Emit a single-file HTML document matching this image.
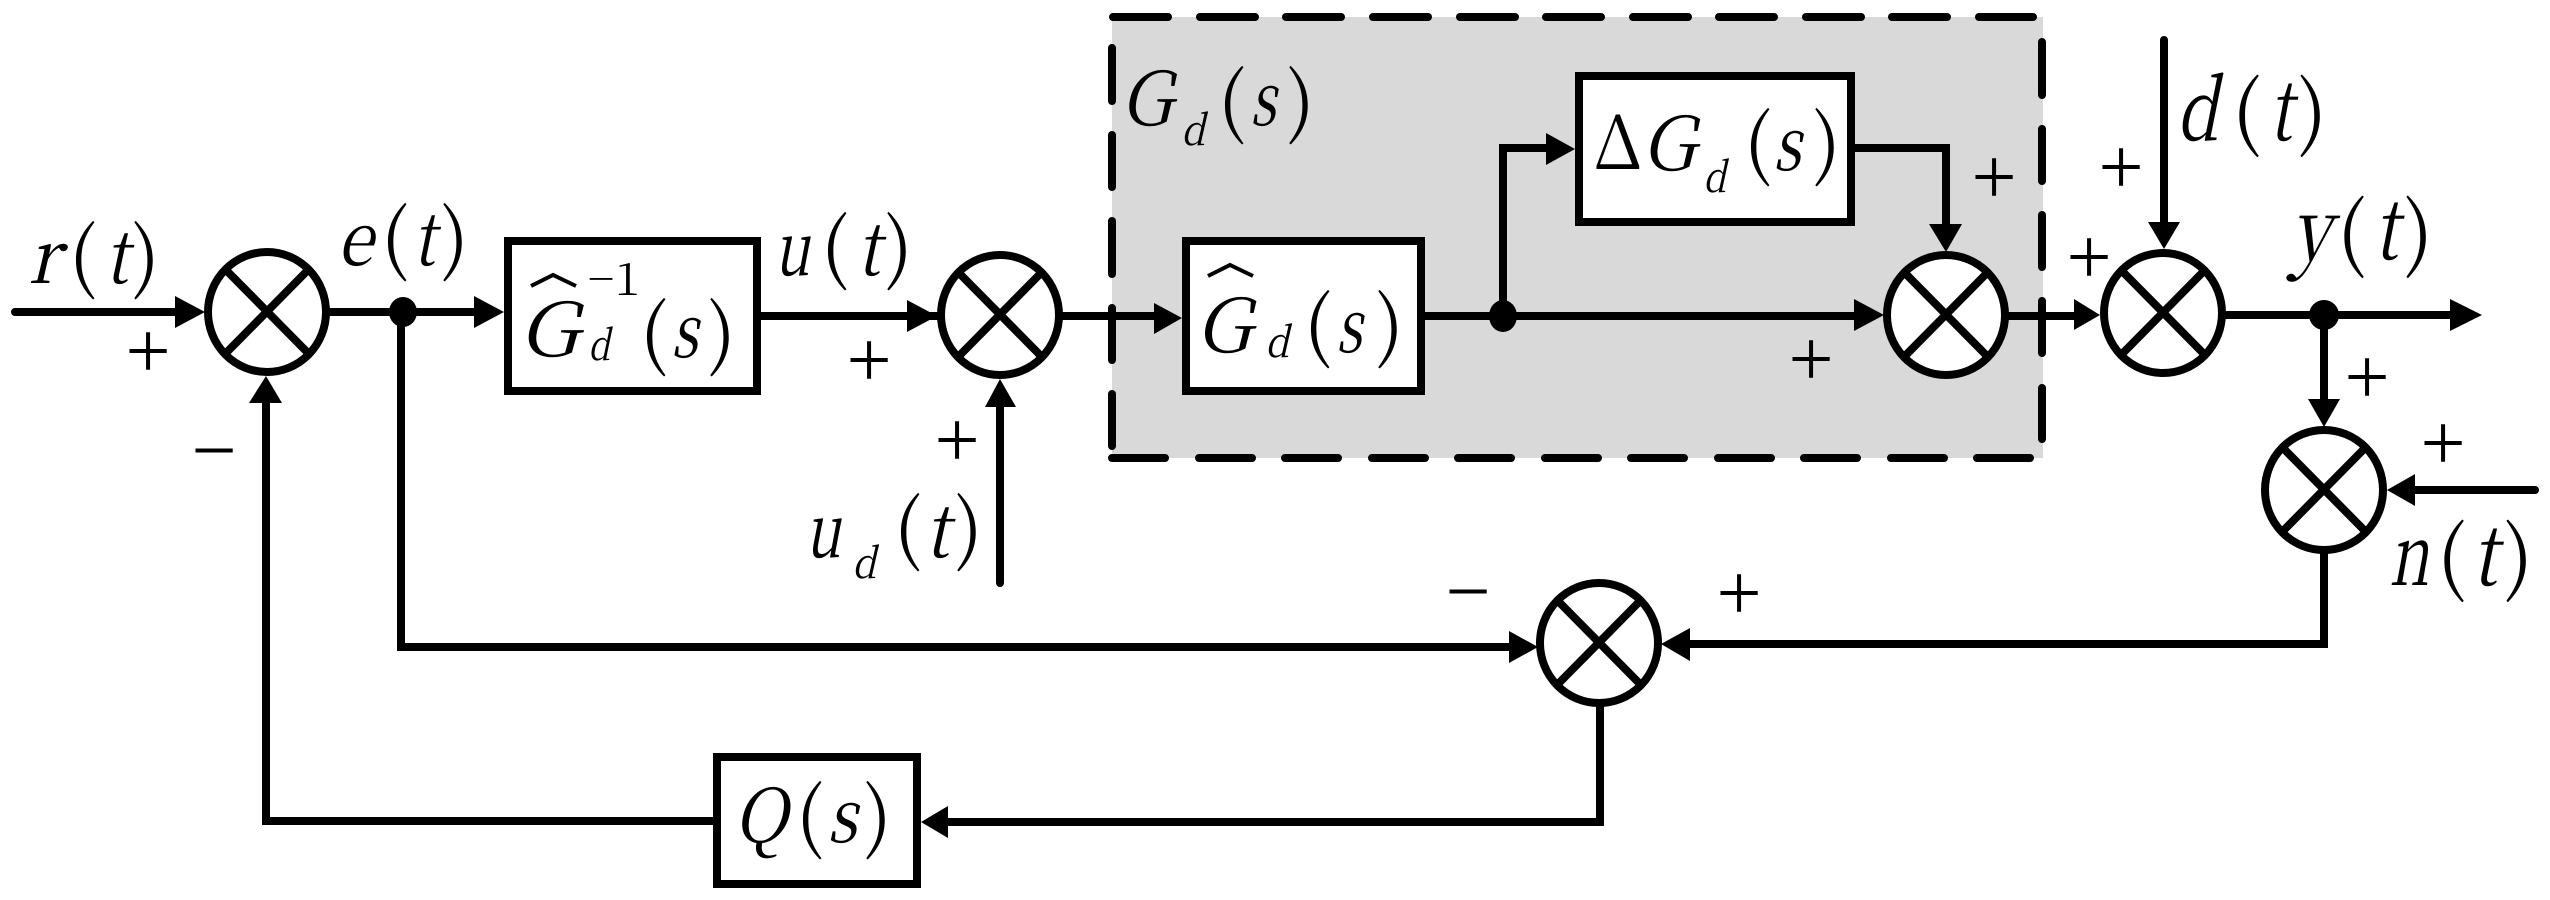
<!DOCTYPE html>
<html><head><meta charset="utf-8">
<style>
html,body{margin:0;padding:0;background:#fff;width:2550px;height:900px;overflow:hidden}
svg{display:block;font-family:"Liberation Serif",serif}
text{font-family:"Noto Serif CJK SC","Liberation Serif",serif;fill:#000}
.i{font-style:italic;font-size:74px}
.v{font-style:italic;font-size:84px}
.s{font-style:italic;font-size:42px}
.p{font-size:76px}
.P{font-size:80px}
.o{font-family:"Liberation Serif",serif;font-size:80px;text-anchor:middle}
.e{font-size:45px}
.l{stroke:#000;stroke-width:8;fill:none;stroke-linecap:round;stroke-linejoin:miter}
.b{stroke:#000;stroke-width:8;fill:#fff}
.c{stroke:#000;stroke-width:8;fill:#fff}
.x{stroke:#000;stroke-width:8;fill:none}
.d{stroke:#000;stroke-width:8;fill:none;stroke-linecap:round}
.h{stroke:#000;stroke-width:4;fill:none}
</style></head><body>
<svg width="2550" height="900" viewBox="0 0 2550 900" xmlns="http://www.w3.org/2000/svg">
<rect x="1112" y="17" width="931" height="441" fill="#d9d9d9"/>
<!-- dashed border -->
<path class="d" d="M1113 17H1168M1200 17H1255M1286 17H1341M1373 17H1428M1460 17H1515M1546 17H1601M1633 17H1688M1719 17H1774M1806 17H1861M1892 17H1947M1979 17H2033"/>
<path class="d" d="M1112 458H1165M1199 458H1252M1285 458H1338M1372 458H1425M1458 458H1511M1545 458H1598M1631 458H1684M1718 458H1771M1804 458H1857M1891 458H1944M1977 458H2030"/>
<path class="d" d="M1112 48V101M1112 135V187M1112 221V274M1112 308V360M1112 394V446"/>
<path class="d" d="M2042 42V95M2042 129V181M2042 215V267M2042 301V353M2042 388V439"/>
<!-- wires -->
<path class="l" d="M15 312H180M330 312H480M761 316H960M1063 316H1160M1425 316H1860M2008 316H2080M2226 315H2455"/>
<path class="l" d="M1503 316V148H1552M1855 148H1946V228M2164 40V226M2324 315V402M2535 490H2410M1000 583V404"/>
<path class="l" d="M401 312V647H1513M2324 554V644H1686M1600 707V822H945M713 821H266V400"/>
<!-- arrowheads -->
<g fill="#000">
<polygon points="175,296 205,312 175,328"/>
<polygon points="474,296 504,312 474,328"/>
<polygon points="907,300 937,316 907,332"/>
<polygon points="1154,303 1182,318 1154,334"/>
<polygon points="1546,133 1575,149 1546,165"/>
<polygon points="1854,299 1884,315 1854,331"/>
<polygon points="1929,224 1962,224 1946,252"/>
<polygon points="2074,299 2100,315 2074,330"/>
<polygon points="2148,222 2180,222 2164,249"/>
<polygon points="2450,299 2482,315 2450,331"/>
<polygon points="2308,399 2340,399 2324,427"/>
<polygon points="2415,474 2387,490 2415,506"/>
<polygon points="985,407 1016,407 1000,379"/>
<polygon points="249,403 282,403 266,376"/>
<polygon points="1509,631 1538,647 1509,663"/>
<polygon points="1690,628 1661,644 1690,661"/>
<polygon points="948,806 921,822 948,838"/>
<ellipse cx="403" cy="312" rx="14" ry="15"/>
<ellipse cx="1503" cy="316" rx="14" ry="16"/>
<ellipse cx="2324" cy="315" rx="15" ry="15"/>
</g>
<!-- boxes -->
<rect class="b" x="508" y="241" width="249" height="150"/>
<rect class="b" x="1186" y="241" width="235" height="150"/>
<rect class="b" x="1579" y="76" width="272" height="146"/>
<rect class="b" x="717" y="757" width="200" height="127"/>
<!-- summing junctions -->
<g>
<ellipse class="c" cx="267" cy="312" rx="59" ry="60"/><path class="x" d="M226 270L308 353M308 270L226 353"/>
<ellipse class="c" cx="1000" cy="315" rx="59" ry="60"/><path class="x" d="M959 273L1041 356M1041 273L959 356"/>
<ellipse class="c" cx="1946" cy="315" rx="59" ry="60"/><path class="x" d="M1905 273L1987 356M1987 273L1905 356"/>
<ellipse class="c" cx="2163" cy="313" rx="59" ry="60"/><path class="x" d="M2122 271L2204 354M2204 271L2122 354"/>
<ellipse class="c" cx="2324" cy="490" rx="59" ry="60"/><path class="x" d="M2283 448L2365 531M2365 448L2283 531"/>
<ellipse class="c" cx="1599" cy="643" rx="59" ry="60"/><path class="x" d="M1558 601L1640 684M1640 601L1558 684"/>
</g>
<!-- signal labels -->
<text class="i" x="28" y="283" textLength="32" lengthAdjust="spacingAndGlyphs">r</text><text class="p" x="69" y="283">(</text><text class="i" x="105" y="283" textLength="23" lengthAdjust="spacingAndGlyphs">t</text><text class="p" x="132" y="283">)</text>
<text class="i" x="337" y="265" textLength="36" lengthAdjust="spacingAndGlyphs">e</text><text class="p" x="381" y="265">(</text><text class="i" x="413" y="265" textLength="22" lengthAdjust="spacingAndGlyphs">t</text><text class="p" x="441" y="265">)</text>
<text class="i" x="774" y="275" textLength="36" lengthAdjust="spacingAndGlyphs">u</text><text class="p" x="821" y="274">(</text><text class="i" x="857" y="275" textLength="23" lengthAdjust="spacingAndGlyphs">t</text><text class="p" x="885" y="274">)</text>
<text class="i" x="805" y="557" textLength="36" lengthAdjust="spacingAndGlyphs">u</text><text class="s" x="852" y="578" textLength="24" lengthAdjust="spacingAndGlyphs">d</text><text class="p" x="894" y="555">(</text><text class="i" x="925" y="557" textLength="24" lengthAdjust="spacingAndGlyphs">t</text><text class="p" x="955" y="555">)</text>
<text class="v" x="2176" y="140" textLength="42" lengthAdjust="spacingAndGlyphs">d</text><text class="P" x="2232" y="140">(</text><text class="v" x="2269" y="140" textLength="23" lengthAdjust="spacingAndGlyphs">t</text><text class="P" x="2298" y="140">)</text>
<text class="v" x="2291" y="259" textLength="40" lengthAdjust="spacingAndGlyphs">y</text><text class="P" x="2337" y="261">(</text><text class="v" x="2374" y="259" textLength="24" lengthAdjust="spacingAndGlyphs">t</text><text class="P" x="2404" y="261">)</text>
<text class="v" x="2389" y="585" textLength="40" lengthAdjust="spacingAndGlyphs">n</text><text class="P" x="2437" y="585">(</text><text class="v" x="2472" y="585" textLength="25" lengthAdjust="spacingAndGlyphs">t</text><text class="P" x="2504" y="585">)</text>
<!-- transfer functions -->
<text class="i" x="1120" y="125" textLength="52" lengthAdjust="spacingAndGlyphs">G</text><text class="s" x="1181" y="145" textLength="24" lengthAdjust="spacingAndGlyphs">d</text><text class="p" x="1218" y="128">(</text><text class="i" x="1250" y="125" textLength="26" lengthAdjust="spacingAndGlyphs">s</text><text class="p" x="1287" y="128">)</text>
<text style="font-size:74px" x="1593" y="169" textLength="50" lengthAdjust="spacingAndGlyphs">Δ</text><text class="i" x="1641" y="170" textLength="54" lengthAdjust="spacingAndGlyphs">G</text><text class="s" x="1703" y="192" textLength="23" lengthAdjust="spacingAndGlyphs">d</text><text class="p" x="1744" y="170">(</text><text class="i" x="1773" y="170" textLength="28" lengthAdjust="spacingAndGlyphs">s</text><text class="p" x="1813" y="170">)</text>
<text class="i" x="1195" y="352" textLength="56" lengthAdjust="spacingAndGlyphs">G</text><text class="s" x="1265" y="357" textLength="24" lengthAdjust="spacingAndGlyphs">d</text><text class="p" x="1304" y="352">(</text><text class="i" x="1336" y="352" textLength="26" lengthAdjust="spacingAndGlyphs">s</text><text class="p" x="1376" y="352">)</text>
<polyline class="h" points="1208,276 1230,265 1253,276"/>
<text class="i" x="518" y="356" textLength="60" lengthAdjust="spacingAndGlyphs">G</text><text class="s" x="588" y="360" textLength="22" lengthAdjust="spacingAndGlyphs">d</text><text class="p" x="640" y="360">(</text><text class="i" x="671" y="357" textLength="27" lengthAdjust="spacingAndGlyphs">s</text><text class="p" x="708" y="360">)</text>
<polyline class="h" points="531,286 553,275 576,286"/>
<text class="e" x="588" y="295">−</text><text class="e" x="615" y="295">1</text>
<text class="i" x="733" y="842" textLength="54" lengthAdjust="spacingAndGlyphs">Q</text><text class="p" x="796" y="843">(</text><text class="i" x="827" y="842" textLength="30" lengthAdjust="spacingAndGlyphs">s</text><text class="p" x="864" y="843">)</text>
<!-- signs -->
<g>
<text class="o" x="148" y="378">+</text>
<text class="o" x="869" y="387">+</text>
<text class="o" x="957" y="467">+</text>
<text class="o" x="1994" y="204">+</text>
<text class="o" x="1811" y="386">+</text>
<text class="o" x="2121" y="194">+</text>
<text class="o" x="2089" y="284">+</text>
<text class="o" x="2367" y="404">+</text>
<text class="o" x="2443" y="470">+</text>
<text class="o" x="1739" y="620">+</text>
<text class="o" x="214" y="477">−</text>
<text class="o" x="1468" y="618">−</text>
</g>
</svg>
</body></html>
